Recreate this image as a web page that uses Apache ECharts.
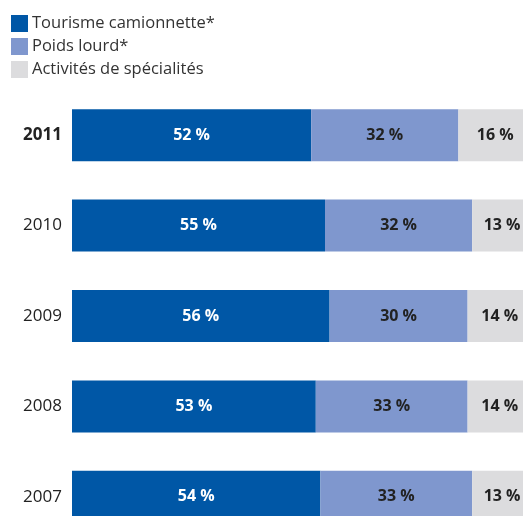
<!DOCTYPE html>
<html>
<head>
<meta charset="utf-8">
<script src="https://cdn.jsdelivr.net/npm/echarts@6/dist/echarts.min.js"></script>
<style>
html,body{margin:0;padding:0;background:#fff;}
#chart{width:523px;height:516px;}
</style>
</head>
<body>
<div id="chart"></div>
<script>
const years = ['2011', '2010', '2009', '2008', '2007'];
const seriesNames = ['Tourisme camionnette*', 'Poids lourd*', 'Activités de spécialités'];
const tourisme = [52, 55, 56, 53, 54];
const poidsLourd = [32, 32, 30, 33, 33];
const specialites = [16, 13, 14, 14, 13];
const colors = ['#0057a6', '#7f97ce', '#dcdcde'];
const labelColors = ['#ffffff', '#222222', '#222222'];

const FONT = '"Open Sans", "Noto Sans", sans-serif';
const values = [tourisme, poidsLourd, specialites];

const chart = echarts.init(document.getElementById('chart'), null, {renderer: 'canvas'});
chart.setOption({
  animation: false,
  backgroundColor: '#ffffff',
  color: colors,
  legend: {
    orient: 'vertical',
    left: 11,
    top: 15,
    itemWidth: 17,
    itemHeight: 17,
    itemGap: 6,
    icon: 'rect',
    padding: 0,
    textStyle: {fontFamily: FONT, fontSize: 16.5, color: '#333333', padding: [0, 0, 0, -1]},
    data: seriesNames
  },
  grid: {left: 72, top: 90, width: 460, height: 452, outerBoundsMode: 'none', containLabel: false},
  xAxis: {
    type: 'value', min: 0, max: 100,
    show: false
  },
  yAxis: {
    type: 'category',
    inverse: true,
    data: years,
    axisLine: {show: false},
    axisTick: {show: false},
    axisLabel: {
      margin: 10,
      fontFamily: FONT,
      fontSize: 17,
      color: '#222222',
      formatter: function (v, i) { return i === 0 ? '{b|' + v + '}' : v; },
      rich: {b: {fontFamily: FONT, fontSize: 17, fontWeight: 'bold', color: '#222222'}}
    }
  },
  series: seriesNames.map(function (name, k) {
    return {
      name: name,
      type: 'bar',
      stack: 'total',
      barWidth: 52,
      data: values[k],
      itemStyle: {color: colors[k]},
      label: {
        show: true,
        position: 'inside',
        formatter: '{c} %',
        fontFamily: FONT,
        fontSize: 16,
        fontWeight: 'bold',
        color: labelColors[k]
      }
    };
  })
});
</script>
</body>
</html>
